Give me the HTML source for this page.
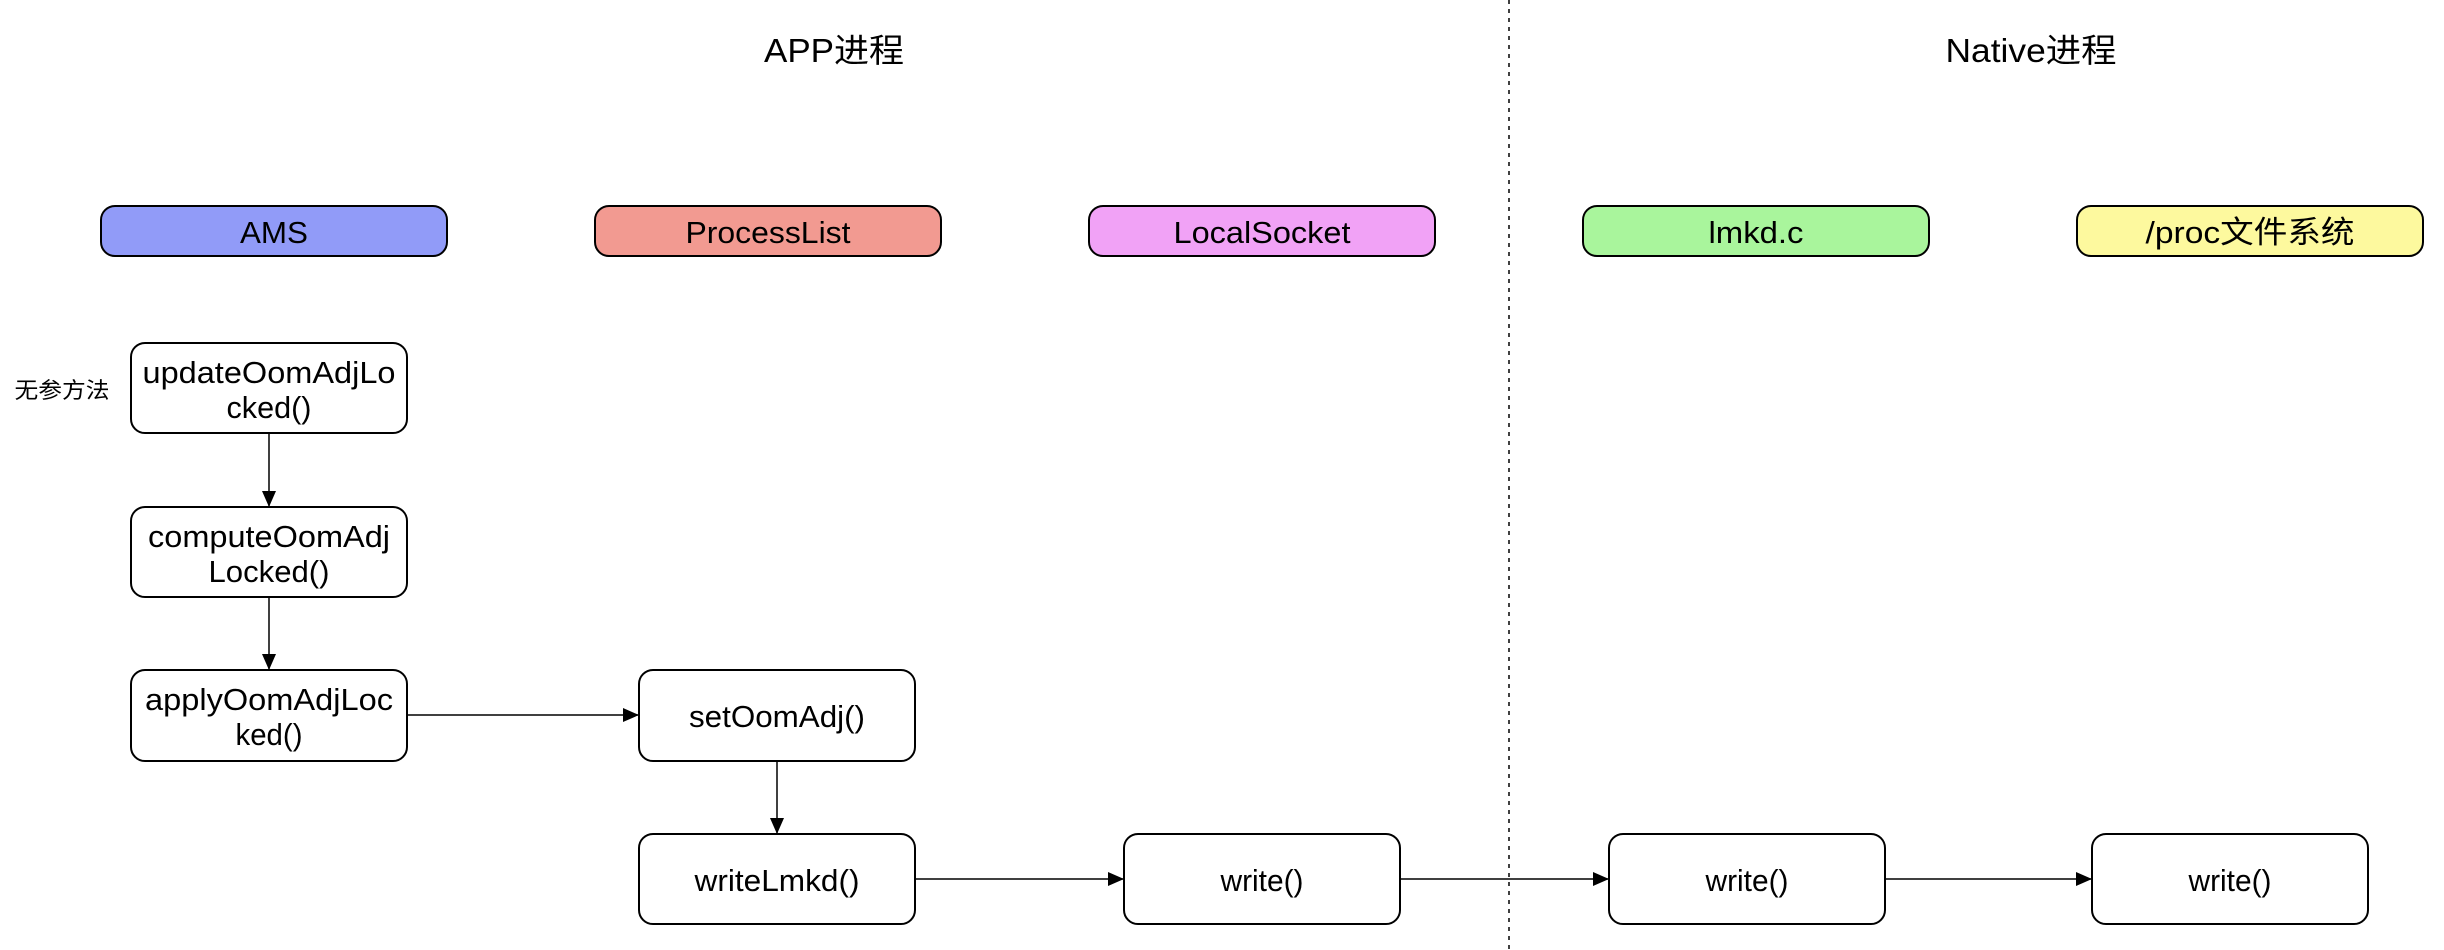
<!DOCTYPE html>
<html><head><meta charset="utf-8"><style>
html,body{margin:0;padding:0;background:#fff;}
svg{display:block}
text{font-family:"Liberation Sans","Noto Sans CJK SC",sans-serif;fill:#000;}
</style></head><body>
<svg width="2444" height="950" viewBox="0 0 2444 950" xmlns="http://www.w3.org/2000/svg">
<defs>
<marker id="b" viewBox="0 0 16 14" markerWidth="16" markerHeight="14" refX="16" refY="7" orient="auto" markerUnits="userSpaceOnUse"><path d="M0,0 L16,7 L0,14 z" fill="#000"/></marker></defs>
<text x="834" y="62" font-size="33" text-anchor="middle" textLength="140" lengthAdjust="spacingAndGlyphs">APP进程</text>
<text x="2031" y="62" font-size="33" text-anchor="middle" textLength="171" lengthAdjust="spacingAndGlyphs">Native进程</text>
<line x1="1509" y1="0" x2="1509" y2="950" stroke="#000" stroke-width="1.5" stroke-dasharray="4,5"/>
<g stroke="#000" stroke-width="2">
<rect x="101" y="206" width="346" height="50" rx="14" fill="#919bf8"/>
<rect x="595" y="206" width="346" height="50" rx="14" fill="#f29a91"/>
<rect x="1089" y="206" width="346" height="50" rx="14" fill="#f1a2f6"/>
<rect x="1583" y="206" width="346" height="50" rx="14" fill="#a9f59c"/>
<rect x="2077" y="206" width="346" height="50" rx="14" fill="#fdf99e"/>
</g>
<g font-size="31" text-anchor="middle" lengthAdjust="spacingAndGlyphs">
<text x="274" y="243" textLength="68" lengthAdjust="spacingAndGlyphs">AMS</text>
<text x="768" y="243" textLength="165" lengthAdjust="spacingAndGlyphs">ProcessList</text>
<text x="1262" y="243" textLength="177" lengthAdjust="spacingAndGlyphs">LocalSocket</text>
<text x="1756" y="243" textLength="95" lengthAdjust="spacingAndGlyphs">lmkd.c</text>
<text x="2250" y="243" textLength="209" lengthAdjust="spacingAndGlyphs">/proc文件系统</text>
</g>
<text x="62" y="398" font-size="22" text-anchor="middle" textLength="95" lengthAdjust="spacingAndGlyphs">无参方法</text>
<g stroke="#000" stroke-width="2" fill="#fff">
<rect x="131" y="343" width="276" height="90" rx="14"/>
<rect x="131" y="507" width="276" height="90" rx="14"/>
<rect x="131" y="670" width="276" height="91" rx="14"/>
<rect x="639" y="670" width="276" height="91" rx="14"/>
<rect x="639" y="834" width="276" height="90" rx="14"/>
<rect x="1124" y="834" width="276" height="90" rx="14"/>
<rect x="1609" y="834" width="276" height="90" rx="14"/>
<rect x="2092" y="834" width="276" height="90" rx="14"/>
</g>
<g stroke="#000" stroke-width="1.5" fill="none">
<line x1="269" y1="433" x2="269" y2="507" marker-end="url(#b)"/>
<line x1="269" y1="597" x2="269" y2="670" marker-end="url(#b)"/>
<line x1="407" y1="715" x2="639" y2="715" marker-end="url(#b)"/>
<line x1="777" y1="761" x2="777" y2="834" marker-end="url(#b)"/>
<line x1="915" y1="879" x2="1124" y2="879" marker-end="url(#b)"/>
<line x1="1400" y1="879" x2="1609" y2="879" marker-end="url(#b)"/>
<line x1="1885" y1="879" x2="2092" y2="879" marker-end="url(#b)"/>
</g>
<g font-size="31" text-anchor="middle">
<text x="269" y="383" textLength="253" lengthAdjust="spacingAndGlyphs">updateOomAdjLo</text><text x="269" y="418" textLength="85" lengthAdjust="spacingAndGlyphs">cked()</text>
<text x="269" y="547" textLength="242" lengthAdjust="spacingAndGlyphs">computeOomAdj</text><text x="269" y="582" textLength="121" lengthAdjust="spacingAndGlyphs">Locked()</text>
<text x="269" y="710" textLength="248" lengthAdjust="spacingAndGlyphs">applyOomAdjLoc</text><text x="269" y="745" textLength="67" lengthAdjust="spacingAndGlyphs">ked()</text>
<text x="777" y="727" textLength="176" lengthAdjust="spacingAndGlyphs">setOomAdj()</text>
<text x="777" y="891" textLength="165" lengthAdjust="spacingAndGlyphs">writeLmkd()</text>
<text x="1262" y="891" textLength="83" lengthAdjust="spacingAndGlyphs">write()</text>
<text x="1747" y="891" textLength="83" lengthAdjust="spacingAndGlyphs">write()</text>
<text x="2230" y="891" textLength="83" lengthAdjust="spacingAndGlyphs">write()</text>
</g>
</svg>
</body></html>
